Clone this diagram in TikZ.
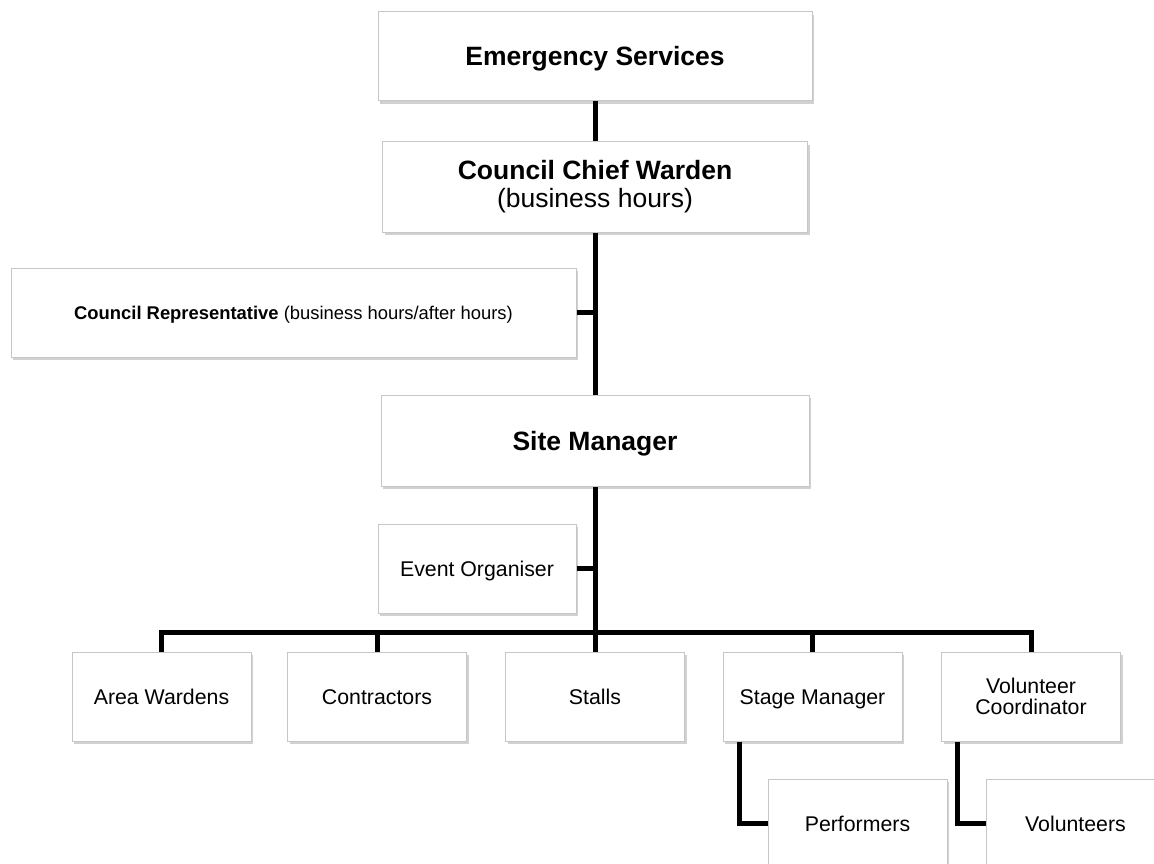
\documentclass[tikz,border=0pt]{standalone}
\usepackage{fontspec}
\setmainfont{Liberation Sans}
\usetikzlibrary{shadows}
\usetikzlibrary{positioning,calc}

\begin{document}
\begin{tikzpicture}[x=1pt, y=-1pt,
 box/.style={draw=gray!45, line width=1pt, fill=white, inner sep=0pt,
   minimum height=89pt, align=center,
   drop shadow={shadow xshift=2pt, shadow yshift=-3pt, fill=black!60, opacity=0.3}},
 bigbox/.style={box, font=\fontsize{26.5}{28}\selectfont},
 smallbox/.style={box, minimum width=179pt, font=\fontsize{21.3}{21.5}\selectfont},
 oneline/.style={text height=#1, text depth=0pt},
 oneline/.default=15.3pt,
 conn/.style={line width=5pt, line join=miter}]
    \useasboundingbox (0,0) rectangle (1154,864);

    % Boxes in the upper column
    \node[bigbox, oneline=19pt, minimum width=434pt] (emergency) at (595,56.5) {\textbf{Emergency Services}};
    \node[bigbox, minimum width=425pt, minimum height=90pt] (chief-warden) at (595,187)
        {\textbf{Council Chief Warden}\\(business hours)};
    \node[box, oneline=13.2pt, minimum width=565pt, font=\fontsize{18.4}{20}\selectfont] (council-rep) at (293.5,312.5)
        {\textbf{Council Representative} (business hours/after hours)};
    \node[bigbox, oneline=19pt, minimum width=428pt, minimum height=91pt] (site-manager) at (595,440.5) {\textbf{Site Manager}};
    \node[smallbox, oneline, minimum width=198pt] (event-org) at (477,568.5) {Event Organiser};

    % Bottom row
    \coordinate (bus) at (0,632);
    \node[smallbox, oneline] (area-wardens) at (161.5,696.5) {Area Wardens};
    \node[smallbox, oneline] (contractors) at (377,696.5) {Contractors};
    \node[smallbox, oneline] (stalls) at (595,696.5) {Stalls};
    \node[smallbox, oneline] (stage-mgr) at (812.5,696.5) {Stage Manager};
    \node[smallbox] (vol-coord) at (1031,696.5) {Volunteer\\Coordinator};
    \node[smallbox, oneline] (performers) at (857.5,823.5) {Performers};
    \node[smallbox, oneline] (volunteers) at (1075.5,823.5) {Volunteers};

    % Connectors
    \draw[conn] (emergency.south) -- (chief-warden.north);
    \draw[conn] (chief-warden.south) -- (site-manager.north);
    \draw[conn] (council-rep.east) -- (council-rep.east -| site-manager.north);
    \draw[conn] (site-manager.south) -- (site-manager.south |- bus);
    \draw[conn] (event-org.east) -- (event-org.east -| site-manager.south);
    \draw[conn] (area-wardens.north) |- (vol-coord.north |- bus) -- (vol-coord.north);
    \foreach \n in {contractors,stalls,stage-mgr}
        \draw[conn] (\n.north) -- (\n.north |- bus);
    \draw[conn] ([xshift=17pt]stage-mgr.south west) |- (performers.west);
    \draw[conn] ([xshift=16pt]vol-coord.south west) |- (volunteers.west);

\end{tikzpicture}
\end{document}
